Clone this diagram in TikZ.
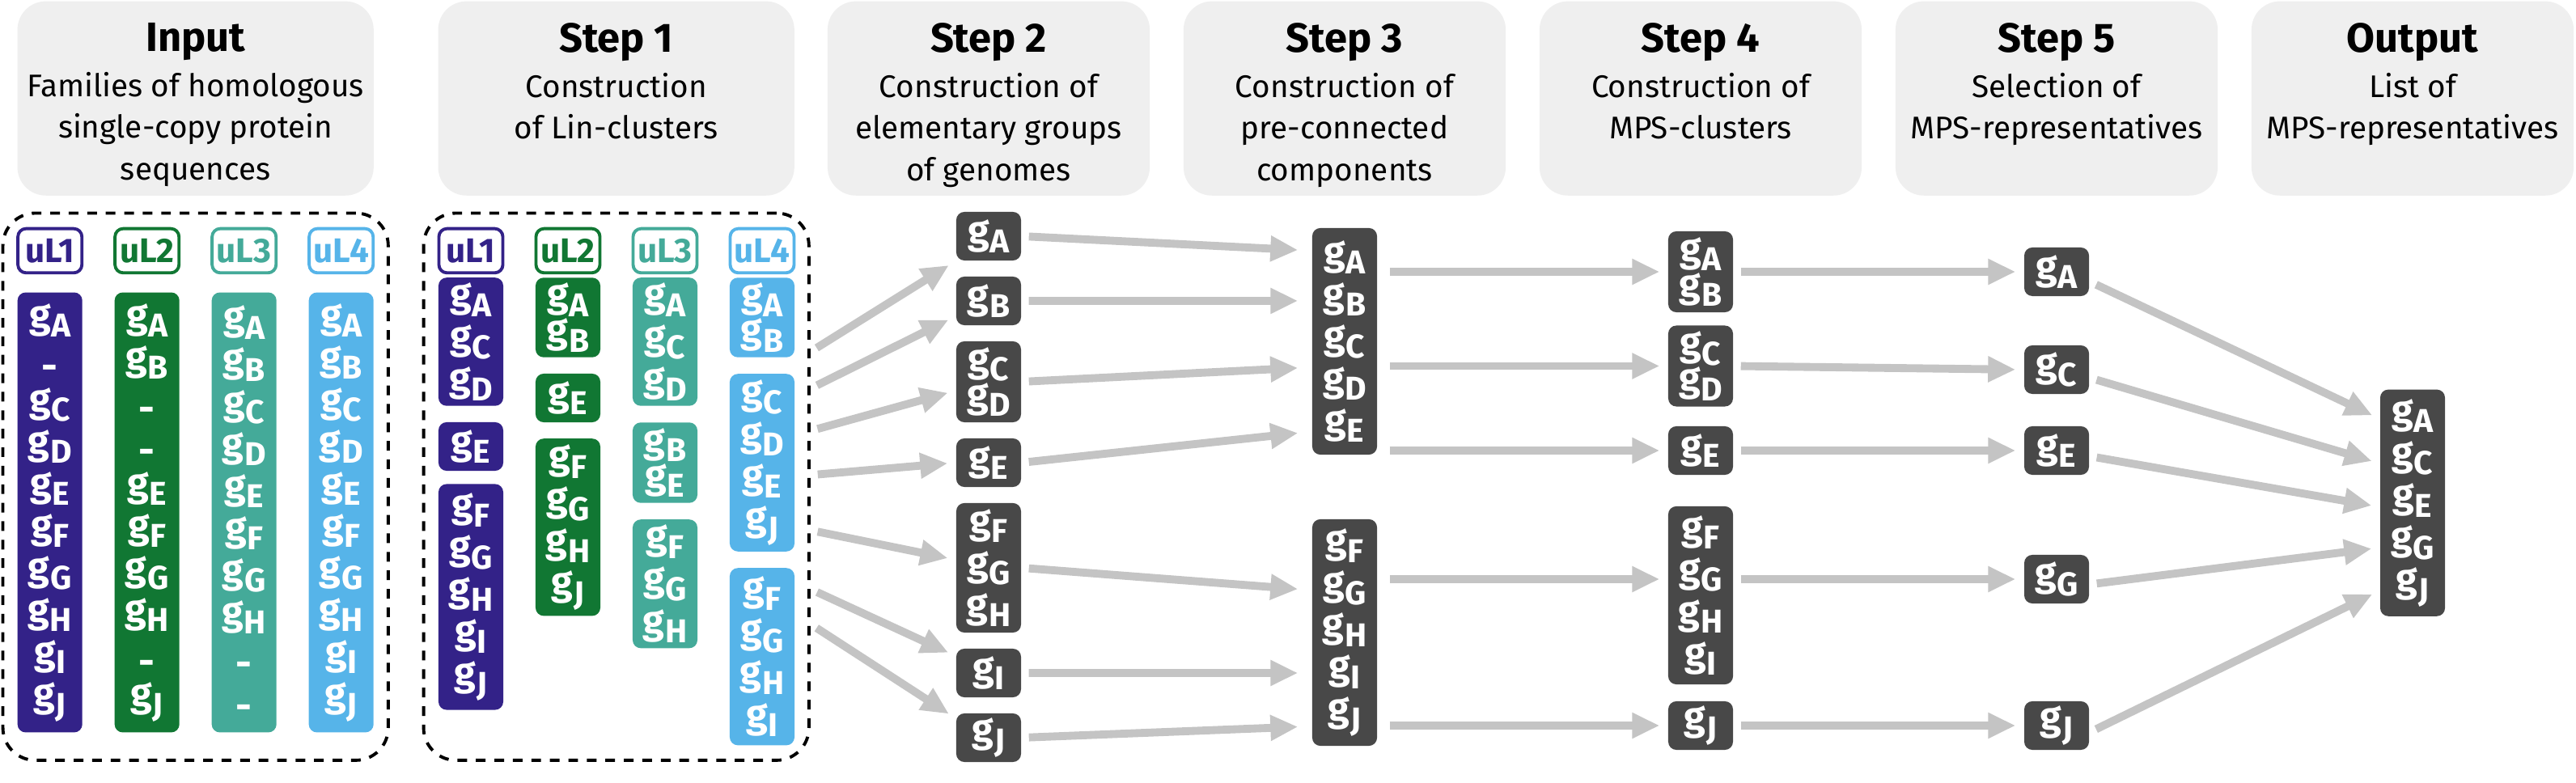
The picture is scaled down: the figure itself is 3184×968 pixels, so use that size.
\documentclass[tikz,border=0pt]{standalone}
\usepackage{fontspec}
\setmainfont{Fira Sans}
\setsansfont{Fira Sans}
\usetikzlibrary{arrows.meta, positioning}
\definecolor{famIndigo}{HTML}{332288}
\definecolor{famGreen}{HTML}{117733}
\definecolor{famTeal}{HTML}{44AA99}
\definecolor{famSky}{HTML}{56B4E9}
\definecolor{genGrey}{HTML}{484848}
\definecolor{flowGrey}{HTML}{C4C4C4}
\definecolor{headGrey}{HTML}{EFEFEF}
% one genome g_X, and an empty slot in a family
\newcommand{\gn}[1]{g\kern0.01em\raisebox{-3.3pt}{\fontsize{11.6}{11.6}\selectfont #1}}
\newcommand{\gmiss}{\vphantom{\gn{A}}\raisebox{-3.6pt}{-}}
\newcommand{\steptitle}[1]{{\fontsize{14.4}{14.7}\selectfont\bfseries #1}\\[1.2pt]}

\begin{document}
\begin{tikzpicture}[x=0.01cm, y=-0.01cm,
  headbox/.style={fill=headGrey, rounded corners=0.35cm, inner sep=0,
                  minimum width=3.98cm, minimum height=2.4cm},
  headtext/.style={anchor=north, align=center, inner sep=0,
                   font=\fontsize{11}{14.7}\selectfont},
  group/.style={draw, line width=1.1pt, dash pattern=on 3.4pt off 3.1pt,
                rounded corners=0.4cm, inner sep=0,
                minimum width=4.76cm, minimum height=6.76cm},
  famlabel/.style={draw=#1, text=#1, fill=white, line width=1.1pt,
                   rounded corners=0.1cm, inner sep=0,
                   minimum width=0.79cm, minimum height=0.546cm,
                   font=\bfseries\fontsize{12}{12}\selectfont},
  fam/.style={fill=#1, text=white, rounded corners=0.1cm, inner sep=0,
              minimum width=0.8cm, align=center,
              font=\bfseries\fontsize{13.8}{14.8}\selectfont},
  pair/.style={font=\bfseries\fontsize{13.8}{12.5}\selectfont},
  solo/.style={minimum height=0.6cm},
  gen/.style={fam=genGrey},
  flow/.style={draw=flowGrey, line width=2.8pt,
               -{Triangle[length=0.34cm, width=0.3cm]},
               shorten <=0.09cm, shorten >=0.1cm},
]
\useasboundingbox (0,0) rectangle (3184,968);

% --- Header row ------------------------------------------------------
\node[headbox, minimum width=4.4cm] (hin) at (241.7,121.7) {};
\node[headtext] (tin) at ([yshift=-0.266cm]hin.north)
  {\steptitle{Input}Families of homologous\\single-copy protein\\sequences};
\node[headbox, minimum width=4.4cm] (h1) at (761.7,121.7) {};
\node[headtext] (t1) at ([yshift=-0.266cm]h1.north)
  {\steptitle{Step 1}Construction\\of Lin-clusters};
\node[headbox] (h2) at (1222,121.7) {};
\node[headtext] (t2) at ([yshift=-0.266cm]h2.north)
  {\steptitle{Step 2}Construction of\\elementary groups\\of genomes};
\node[headbox] (h3) at (1662,121.7) {};
\node[headtext] (t3) at ([yshift=-0.266cm]h3.north)
  {\steptitle{Step 3}Construction of\\pre-connected\\components};
\node[headbox] (h4) at (2102,121.7) {};
\node[headtext] (t4) at ([yshift=-0.266cm]h4.north)
  {\steptitle{Step 4}Construction of\\MPS-clusters};
\node[headbox] (h5) at (2542,121.7) {};
\node[headtext] (t5) at ([yshift=-0.266cm]h5.north)
  {\steptitle{Step 5}Selection of\\MPS-representatives};
\node[headbox] (hout) at (2982,121.7) {};
\node[headtext] (tout) at ([yshift=-0.266cm]hout.north)
  {\steptitle{Output}List of\\MPS-representatives};

% --- Input and Step 1: the four families ------------------------------
\node[group] (inbox)  at (241.7,601.7) {};
\node[group] (linbox) at (761.7,601.7) {};
\foreach \c [count=\i] in {famIndigo, famGreen, famTeal, famSky} {
  \node[famlabel=\c] (inL\i)  at ({61.7+120*(\i-1)},310) {uL\i};
  \node[famlabel=\c] (linL\i) at ({582+120*(\i-1)},310)  {uL\i};
}

\node[fam=famIndigo, minimum height=5.436cm] (in1) at (61.7,633.5)
  {\gn{A}\\\gmiss\\\gn{C}\\\gn{D}\\\gn{E}\\\gn{F}\\\gn{G}\\\gn{H}\\\gn{I}\\\gn{J}};
\node[fam=famGreen, minimum height=5.436cm] (in2) at (181.7,633.5)
  {\gn{A}\\\gn{B}\\\gmiss\\\gmiss\\\gn{E}\\\gn{F}\\\gn{G}\\\gn{H}\\\gmiss\\\gn{J}};
\node[fam=famTeal, minimum height=5.436cm] (in3) at (301.7,633.5)
  {\gn{A}\\\gn{B}\\\gn{C}\\\gn{D}\\\gn{E}\\\gn{F}\\\gn{G}\\\gn{H}\\\gmiss\\\gmiss};
\node[fam=famSky, minimum height=5.436cm] (in4) at (421.7,633.5)
  {\gn{A}\\\gn{B}\\\gn{C}\\\gn{D}\\\gn{E}\\\gn{F}\\\gn{G}\\\gn{H}\\\gn{I}\\\gn{J}};

\node[fam=famIndigo, minimum height=1.584cm] (l1a) at (582,422.5)
  {\gn{A}\\\gn{C}\\\gn{D}};
\node[fam=famIndigo, solo] (l1b) at (582,552) {\gn{E}};
\node[fam=famIndigo, minimum height=2.79cm] (l1c) at (582,738)
  {\gn{F}\\\gn{G}\\\gn{H}\\\gn{I}\\\gn{J}};
\node[fam=famGreen, pair, minimum height=0.984cm] (l2a) at (702,392.5)
  {\gn{A}\\\gn{B}};
\node[fam=famGreen, solo] (l2b) at (702,492) {\gn{E}};
\node[fam=famGreen, minimum height=2.19cm] (l2c) at (702,651.8)
  {\gn{F}\\\gn{G}\\\gn{H}\\\gn{J}};
\node[fam=famTeal, minimum height=1.584cm] (l3a) at (822,422.5)
  {\gn{A}\\\gn{C}\\\gn{D}};
\node[fam=famTeal, pair, minimum height=0.994cm] (l3b) at (822,572)
  {\gn{B}\\\gn{E}};
\node[fam=famTeal, minimum height=1.59cm] (l3c) at (822,721.8)
  {\gn{F}\\\gn{G}\\\gn{H}};
\node[fam=famSky, pair, minimum height=0.984cm] (l4a) at (942,392.5)
  {\gn{A}\\\gn{B}};
\node[fam=famSky, minimum height=2.194cm] (l4b) at (942,572)
  {\gn{C}\\\gn{D}\\\gn{E}\\\gn{J}};
\node[fam=famSky, minimum height=2.19cm] (l4c) at (942,811.8)
  {\gn{F}\\\gn{G}\\\gn{H}\\\gn{I}};

% --- Step 2: elementary groups ----------------------------------------
\node[gen, solo] (s2a) at (1222,292) {\gn{A}};
\node[gen, solo] (s2b) at (1222,372) {\gn{B}};
\node[gen, pair, minimum height=1cm] (s2cd) at (1222,472) {\gn{C}\\\gn{D}};
\node[gen, solo] (s2e) at (1222,572) {\gn{E}};
\node[gen, minimum height=1.6cm] (s2fgh) at (1222,702)
  {\gn{F}\\\gn{G}\\\gn{H}};
\node[gen, solo] (s2i) at (1222,832) {\gn{I}};
\node[gen, solo] (s2j) at (1222,912) {\gn{J}};

% --- Step 3: pre-connected components ---------------------------------
\node[gen, minimum height=2.8cm] (s3a) at (1662,422)
  {\gn{A}\\\gn{B}\\\gn{C}\\\gn{D}\\\gn{E}};
\node[gen, minimum height=2.8cm] (s3b) at (1662,782)
  {\gn{F}\\\gn{G}\\\gn{H}\\\gn{I}\\\gn{J}};

% --- Step 4: MPS-clusters ---------------------------------------------
\node[gen, pair, minimum height=1cm] (s4ab) at (2102,336) {\gn{A}\\\gn{B}};
\node[gen, pair, minimum height=1cm] (s4cd) at (2102,452.5) {\gn{C}\\\gn{D}};
\node[gen, solo] (s4e) at (2102,557) {\gn{E}};
\node[gen, minimum height=2.2cm] (s4fghi) at (2102,736)
  {\gn{F}\\\gn{G}\\\gn{H}\\\gn{I}};
\node[gen, solo] (s4j) at (2102,897) {\gn{J}};

% --- Step 5: representatives ------------------------------------------
\node[gen, solo] (s5a) at (2542,336) {\gn{A}};
\node[gen, solo] (s5c) at (2542,457) {\gn{C}};
\node[gen, solo] (s5e) at (2542,557) {\gn{E}};
\node[gen, solo] (s5g) at (2542,716) {\gn{G}};
\node[gen, solo] (s5j) at (2542,897) {\gn{J}};

% --- Output -----------------------------------------------------------
\node[gen, minimum height=2.8cm] (out) at (2982,621.7)
  {\gn{A}\\\gn{C}\\\gn{E}\\\gn{G}\\\gn{J}};

% --- Flows: step 1 -> step 2 ------------------------------------------
\draw[flow] ([yshift=1.667cm]linbox.east)  -- (s2a.south west);
\draw[flow] ([yshift=1.212cm]linbox.east)  -- ([yshift=-0.19cm]s2b.west);
\draw[flow] ([yshift=0.69cm]linbox.east)   -- ([yshift=-0.11cm]s2cd.west);
\draw[flow] ([yshift=0.144cm]linbox.east)  -- (s2e.west);
\draw[flow] ([yshift=-0.538cm]linbox.east) -- ([yshift=0.1cm]s2fgh.west);
\draw[flow] ([yshift=-1.265cm]linbox.east) -- ([yshift=0.21cm]s2i.west);
\draw[flow] ([yshift=-1.697cm]linbox.east) -- ([yshift=0.24cm]s2j.west);

% step 2 -> step 3
\draw[flow, shorten >=0.17cm] (s2a.east)   -- ([yshift=1.12cm]s3a.west);
\draw[flow, shorten >=0.17cm] (s2b.east)   -- ([yshift=0.5cm]s3a.west);
\draw[flow, shorten >=0.17cm] (s2cd.east)  -- ([yshift=-0.32cm]s3a.west);
\draw[flow, shorten >=0.17cm] (s2e.east)   -- ([yshift=-1.115cm]s3a.west);
\draw[flow, shorten >=0.17cm] (s2fgh.east) -- ([yshift=0.524cm]s3b.west);
\draw[flow, shorten >=0.17cm] (s2i.east)   -- ([yshift=-0.5cm]s3b.west);
\draw[flow, shorten >=0.17cm] (s2j.east)   -- ([yshift=-1.158cm]s3b.west);

% step 3 -> step 4
\draw[flow, shorten <=0.15cm] (s3a.east |- s4ab.west) -- (s4ab.west);
\draw[flow, shorten <=0.15cm] (s3a.east |- s4cd.west) -- (s4cd.west);
\draw[flow, shorten <=0.15cm] (s3a.east |- s4e.west)  -- (s4e.west);
\draw[flow, shorten <=0.15cm] (s3b.east |- s5g.west)  -- (s4fghi.west |- s5g.west);
\draw[flow, shorten <=0.15cm] (s3b.east |- s4j.west)  -- (s4j.west);

% step 4 -> step 5
\draw[flow] (s4ab.east) -- (s5a.west);
\draw[flow] (s4cd.east) -- (s5c.west);
\draw[flow] (s4e.east)  -- (s5e.west);
\draw[flow] (s4fghi.east |- s5g.west) -- (s5g.west);
\draw[flow] (s4j.east)  -- (s5j.west);

% step 5 -> output
\draw[flow] ([yshift=-0.12cm]s5a.east)  -- ([yshift=1.039cm]out.west);
\draw[flow] ([yshift=-0.1cm]s5c.east)   -- ([yshift=0.488cm]out.west);
\draw[flow] ([yshift=-0.07cm]s5e.east)  -- ([yshift=-0.05cm]out.west);
\draw[flow] ([yshift=-0.065cm]s5g.east) -- ([yshift=-0.553cm]out.west);
\draw[flow] ([yshift=-0.084cm]s5j.east) -- ([yshift=-1.085cm]out.west);
\end{tikzpicture}
\end{document}
